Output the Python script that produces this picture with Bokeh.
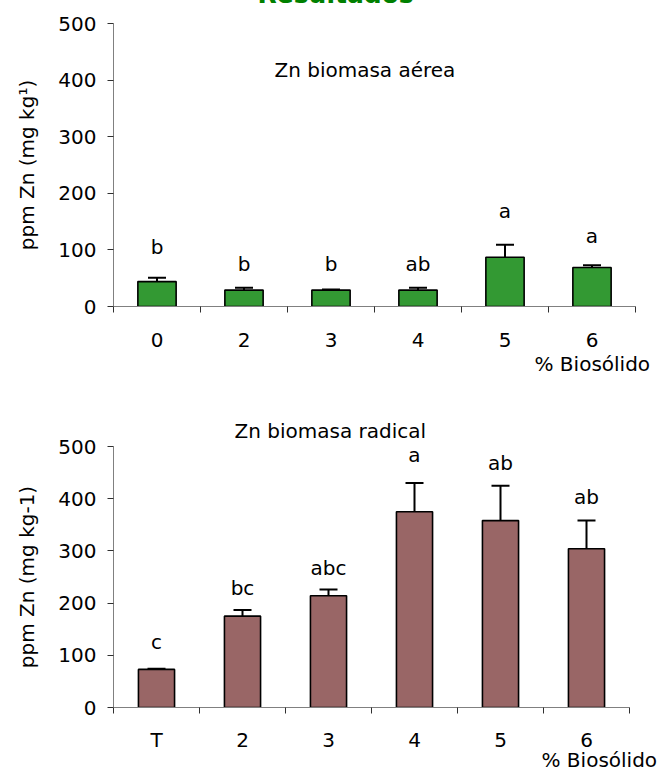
from bokeh.plotting import figure
from bokeh.models import (ColumnDataSource, FixedTicker, Whisker, TeeHead, Label,
                          LabelSet, Range1d, Title)
from bokeh.core.properties import value
from bokeh.layouts import column
from bokeh.embed import file_html
from bokeh.resources import INLINE

# ---------------- data ----------------
top_categories = ["0", "2", "3", "4", "5", "6"]
top_values = [44, 29, 29, 29, 87, 69]
top_errors = [7, 4, 1, 4, 22, 4]
top_letters = ["b", "b", "b", "ab", "a", "a"]
top_letter_y = [93, 63, 63, 63, 156, 112]

bottom_categories = ["T", "2", "3", "4", "5", "6"]
bottom_values = [73, 175, 214, 375, 358, 304]
bottom_errors = [1, 12, 12, 55, 67, 54]
bottom_letters = ["c", "bc", "abc", "a", "ab", "ab"]
bottom_letter_y = [113, 215, 253, 470, 455, 390]

y_ticks = [0, 100, 200, 300, 400, 500]

FONT = "DejaVu Sans"
WIDTH = 657
LEFT = 113


def make_chart(categories, values, errors, letters, letter_y, color, bar_width,
               frame_width, frame_height, border_top, border_bottom, ylabel,
               xlabel_offset, xlabel_standoff, tick_label_standoff):
    n = len(categories)
    idx = list(range(n))
    p = figure(x_range=Range1d(-0.5, n - 0.5), y_range=Range1d(0, 500),
               frame_width=frame_width, frame_height=frame_height,
               min_border_left=LEFT, min_border_right=WIDTH - LEFT - frame_width,
               min_border_top=border_top, min_border_bottom=border_bottom,
               output_backend="svg", toolbar_location=None)
    p.outline_line_color = None
    p.xgrid.visible = False
    p.ygrid.visible = False
    p.background_fill_color = "white"
    p.border_fill_color = "white"

    src = ColumnDataSource(dict(
        x=idx, top=values,
        upper=[v + e for v, e in zip(values, errors)],
        letter=letters, ly=letter_y))

    p.vbar(x="x", top="top", width=bar_width, source=src,
           fill_color=color, line_color="black", line_width=1.6)

    w = Whisker(base="x", lower="top", upper="upper", source=src,
                line_color="black", line_width=2,
                upper_head=TeeHead(size=18, line_color="black", line_width=2),
                lower_head=None, level="overlay")
    p.add_layout(w)

    p.add_layout(LabelSet(x="x", y="ly", text="letter", source=src,
                          text_align="center", text_baseline="alphabetic",
                          text_font=value(FONT), text_font_size=value("20px"),
                          text_color="black"))

    # x axis: boundary ticks as minor ticks, labels at centres
    xa = p.xaxis[0]
    xa.ticker = FixedTicker(ticks=idx, minor_ticks=[i - 0.5 for i in range(n + 1)])
    xa.major_label_overrides = {i: c for i, c in zip(idx, categories)}
    xa.major_tick_in = 0
    xa.major_tick_out = 0
    xa.minor_tick_in = 0
    xa.minor_tick_out = 6
    xa.minor_tick_line_color = "#303030"
    xa.axis_line_color = "#808080"
    xa.major_label_standoff = tick_label_standoff
    xa.major_label_text_font = FONT
    xa.major_label_text_font_size = "20px"
    xa.major_label_text_color = "black"

    ya = p.yaxis[0]
    ya.ticker = FixedTicker(ticks=y_ticks)
    ya.major_tick_in = 0
    ya.major_tick_out = 6
    ya.minor_tick_line_color = None
    ya.major_tick_line_color = "#303030"
    ya.axis_line_color = "#808080"
    ya.major_label_standoff = 11
    ya.major_label_text_font = FONT
    ya.major_label_text_font_size = "20px"
    ya.major_label_text_color = "black"
    ya.axis_label = ylabel
    ya.axis_label_text_font = FONT
    ya.axis_label_text_font_size = "20px"
    ya.axis_label_text_font_style = "normal"
    ya.axis_label_text_color = "black"
    ya.axis_label_standoff = 16

    p.add_layout(Title(text="% Biosólido", align="left", offset=xlabel_offset,
                       standoff=xlabel_standoff, text_font=FONT,
                       text_font_size="20px", text_font_style="normal",
                       text_color="black"), "below")
    return p


p1 = make_chart(top_categories, top_values, top_errors, top_letters, top_letter_y,
                "#339933", 0.44, 522, 283, 72, 89, "ppm Zn (mg kg¹)", 421, 0, 20)
p1.add_layout(Label(x=2.39, y=418, text="Zn biomasa aérea", text_align="center",
                    text_baseline="alphabetic", text_font=FONT,
                    text_font_size="20px", text_color="black"))
p1.title.text = "Resultados"
p1.title.align = "left"
p1.title.offset = 144
p1.title.standoff = 30
p1.title.text_font = FONT
p1.title.text_font_size = "25px"
p1.title.text_font_style = "bold"
p1.title.text_color = "#008000"

p2 = make_chart(bottom_categories, bottom_values, bottom_errors, bottom_letters,
                bottom_letter_y, "#996666", 0.42, 516, 261, 51, 75,
                "ppm Zn (mg kg-1)", 428, -17, 14)
p2.title.text = "Zn biomasa radical"
p2.title.align = "left"
p2.title.offset = 121
p2.title.standoff = 7
p2.title.text_font = FONT
p2.title.text_font_size = "20px"
p2.title.text_font_style = "normal"
p2.title.text_color = "black"

layout = column(p1, p2, margin=(-49, 0, 0, 0), spacing=0)

open("out.html", "w").write(file_html(layout, INLINE))
